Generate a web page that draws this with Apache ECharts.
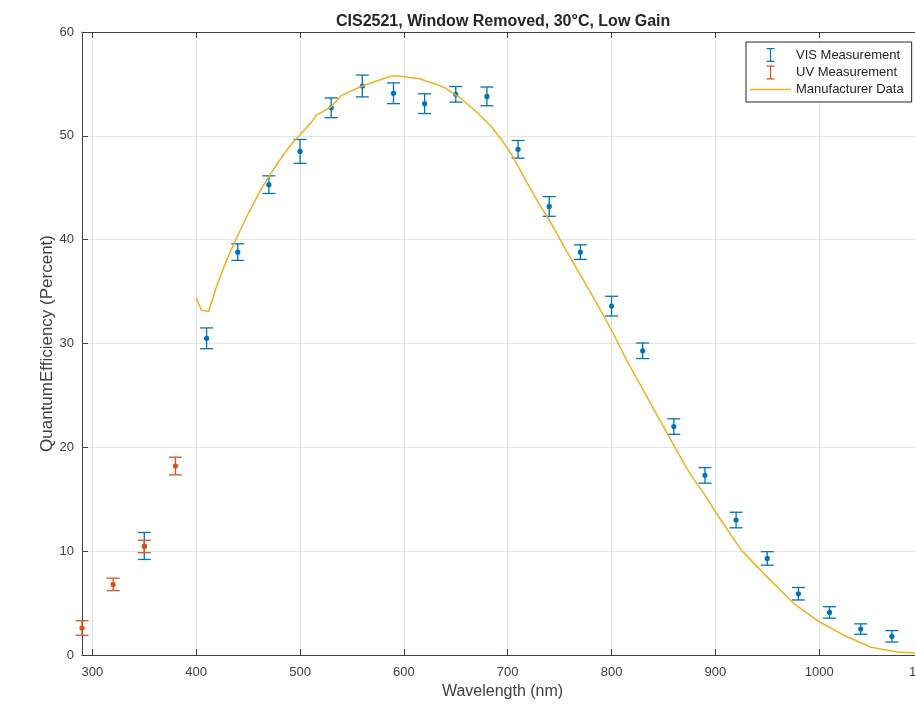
<!DOCTYPE html>
<html>
<head>
<meta charset="utf-8">
<script src="https://cdn.jsdelivr.net/npm/echarts@6/dist/echarts.min.js"></script>
<style>
  html, body { margin: 0; padding: 0; overflow: hidden; background: #fff; }
  #chart { width: 915px; height: 710px; }
</style>
</head>
<body>
<div id="chart"></div>
<script>
// VIS measurement (wavelength nm, QE %, half error)
const visWl = [350, 410, 440, 470, 500, 530, 560, 590, 620, 650, 680, 710, 740, 770, 800, 830, 860, 890, 920, 950, 980, 1010, 1040, 1070]
const visQe = [10.5, 30.5, 38.8, 45.3, 48.5, 52.7, 54.8, 54.1, 53.1, 54.0, 53.8, 48.7, 43.2, 38.8, 33.6, 29.3, 22.0, 17.3, 13.0, 9.3, 5.9, 4.1, 2.5, 1.8]
const visErr = [1.3, 1.0, 0.8, 0.85, 1.15, 0.95, 1.05, 1.0, 0.95, 0.75, 0.9, 0.85, 0.95, 0.7, 0.95, 0.75, 0.75, 0.75, 0.75, 0.65, 0.6, 0.55, 0.5, 0.55]

// UV measurement
const uvWl = [290, 320, 350, 380]
const uvQe = [2.6, 6.8, 10.45, 18.2]
const uvErr = [0.7, 0.6, 0.6, 0.85]

// manufacturer curve
const mfgWl = [400, 405, 412, 420, 430, 440, 450, 460, 470, 480, 490, 500, 510, 516, 530, 540, 560, 580, 590, 600, 615, 630, 640, 655, 670, 685, 695, 705, 718, 730, 740, 755, 770, 785, 800, 815, 830, 850, 865, 876, 890, 900, 925, 950, 975, 1000, 1025, 1050, 1075, 1100]
const mfgQe = [34.4, 33.2, 33.1, 35.6, 38.2, 40.4, 42.5, 44.4, 46.1, 47.6, 49.0, 50.1, 51.2, 52.0, 52.8, 53.9, 54.8, 55.5, 55.8, 55.7, 55.5, 55.0, 54.6, 53.6, 52.3, 50.8, 49.5, 48.0, 45.6, 43.5, 41.9, 39.2, 36.6, 34.0, 31.3, 28.3, 25.6, 22.0, 19.3, 17.4, 15.4, 13.8, 10.1, 7.5, 5.0, 3.2, 1.85, 0.75, 0.28, 0.15]

const yTicks = [0, 10, 20, 30, 40, 50, 60]

const BLUE = '#0072BD'
const ORANGE = '#D95319'
const YELLOW = '#EDB120'
const AXIS = '#404040'
const FONT = 'Liberation Sans, Arial, sans-serif'
const IBEAM = 'path://M0,0H9V1.4H5.2V14.6H9V16H0V14.6H3.8V1.4H0Z'
const LINEICON = 'path://M0,0H40V1.5H0Z'

const myChart = echarts.init(document.getElementById('chart'))

// 误差棒
const errRender = (color) => (params, api) => {
  const x = api.value(0), y = api.value(1), e = api.value(2)
  const top = api.coord([x, y + e])
  const bot = api.coord([x, y - e])
  const mid = api.coord([x, y])
  const w = 6.5
  const ls = { stroke: color, lineWidth: 1.3 }
  return {
    type: 'group',
    children: [
      { type: 'line', shape: { x1: top[0], y1: top[1], x2: bot[0], y2: bot[1] }, style: ls },
      { type: 'line', shape: { x1: top[0] - w, y1: top[1], x2: top[0] + w, y2: top[1] }, style: ls },
      { type: 'line', shape: { x1: bot[0] - w, y1: bot[1], x2: bot[0] + w, y2: bot[1] }, style: ls },
      { type: 'circle', shape: { cx: mid[0], cy: mid[1], r: 2.6 }, style: { fill: color } }
    ]
  }
}

const xAxisBase = {
  type: 'value',
  min: 290,
  max: 1100,
  splitNumber: 8,
  axisLine: { show: true, onZero: false, lineStyle: { color: AXIS, width: 1 } },
  axisTick: { show: true, inside: true, length: 6, lineStyle: { color: AXIS } }
}

const option = {
  backgroundColor: '#fff',
  animation: false,
  textStyle: { fontFamily: FONT },
  title: {
    text: 'CIS2521, Window Removed, 30°C, Low Gain',
    left: 331,
    top: 9,
    textStyle: { fontSize: 16, fontWeight: 'bold', color: '#262626', fontFamily: FONT }
  },
  legend: {
    orient: 'vertical',
    left: 746,
    top: 42,
    padding: [6, 8, 6, 4],
    itemGap: 3.5,
    itemWidth: 41,
    itemHeight: 14,
    symbolKeepAspect: true,
    backgroundColor: '#fff',
    borderColor: '#262626',
    borderWidth: 1,
    textStyle: { fontSize: 13, color: '#262626', fontFamily: FONT },
    data: [
      { name: 'VIS Measurement', icon: IBEAM, itemStyle: { color: BLUE } },
      { name: 'UV Measurement', icon: IBEAM, itemStyle: { color: ORANGE } },
      { name: 'Manufacturer Data', icon: LINEICON, itemStyle: { color: YELLOW } }
    ]
  },
  grid: { left: 82, top: 32, right: -8, bottom: 55, outerBoundsMode: 'none' },
  xAxis: [
    {
      ...xAxisBase,
      position: 'bottom',
      name: 'Wavelength (nm)',
      nameLocation: 'middle',
      nameGap: 29,
      nameTextStyle: { fontSize: 16, color: '#404040', fontFamily: FONT },
      axisLabel: {
        color: '#404040',
        fontSize: 13,
        margin: 11,
        formatter: v => (v % 100 === 0 ? String(v) : '')
      },
      splitLine: { show: true, lineStyle: { color: '#e3e3e3', width: 1 } }
    },
    {
      ...xAxisBase,
      position: 'top',
      axisLabel: { show: false },
      splitLine: { show: false }
    }
  ],
  yAxis: {
    type: 'value',
    min: yTicks[0],
    max: yTicks[yTicks.length - 1],
    interval: 10,
    name: 'QuantumEfficiency (Percent)',
    nameLocation: 'middle',
    nameGap: 26,
    nameMoveOverlap: false,
    nameTextStyle: { fontSize: 17, color: '#404040', fontFamily: FONT },
    axisLine: { show: true, lineStyle: { color: AXIS, width: 1 } },
    axisTick: { show: true, inside: true, length: 6, lineStyle: { color: AXIS } },
    axisLabel: { color: '#404040', fontSize: 13, margin: 8 },
    splitLine: { show: true, lineStyle: { color: '#e3e3e3', width: 1 } }
  },
  series: [
    {
      name: 'VIS Measurement',
      type: 'custom',
      clip: false,
      itemStyle: { color: BLUE },
      renderItem: errRender(BLUE),
      encode: { x: 0, y: 1 },
      data: visWl.map((w, i) => [w, visQe[i], visErr[i]]),
      z: 3
    },
    {
      name: 'UV Measurement',
      type: 'custom',
      clip: false,
      itemStyle: { color: ORANGE },
      renderItem: errRender(ORANGE),
      encode: { x: 0, y: 1 },
      data: uvWl.map((w, i) => [w, uvQe[i], uvErr[i]]),
      z: 4
    },
    {
      name: 'Manufacturer Data',
      type: 'line',
      symbol: 'none',
      smooth: false,
      color: YELLOW,
      lineStyle: { color: YELLOW, width: 1.5 },
      data: mfgWl.map((w, i) => [w, mfgQe[i]]),
      z: 5
    }
  ]
}

myChart.setOption(option)
</script>
</body>
</html>
